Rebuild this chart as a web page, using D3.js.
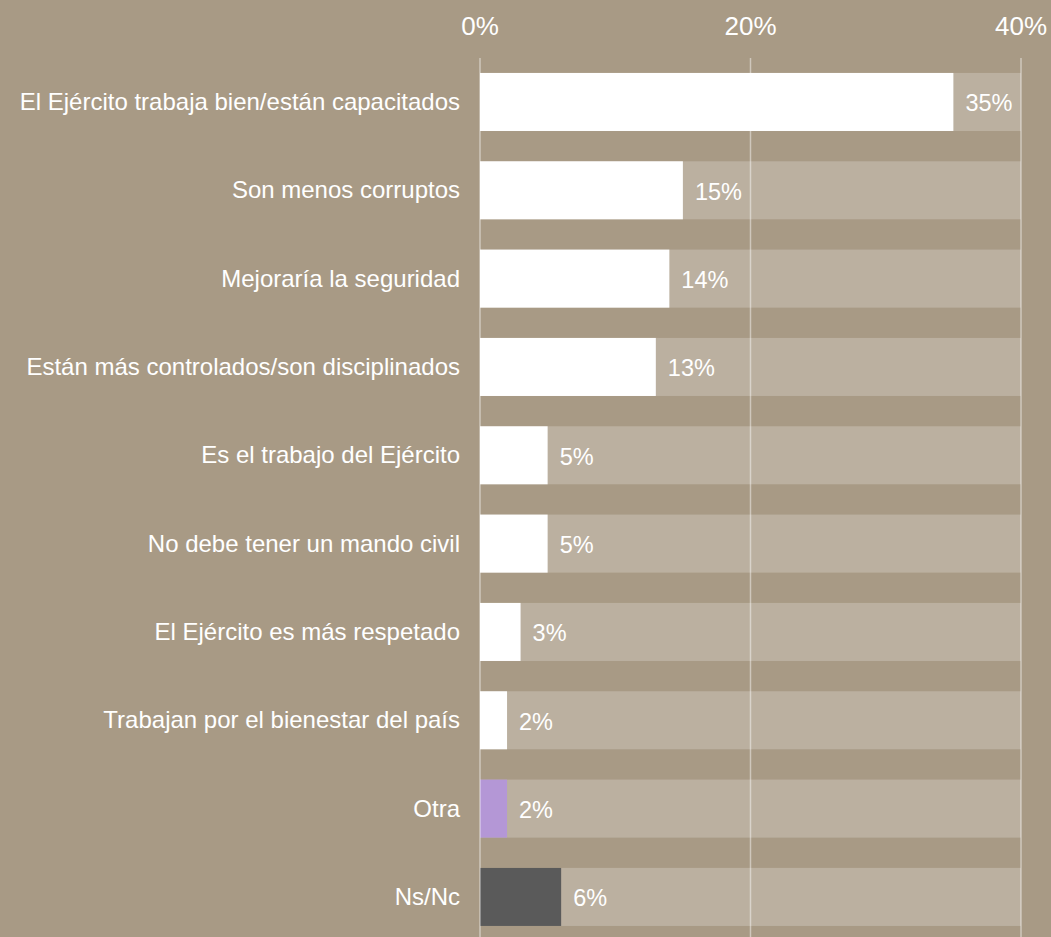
<!DOCTYPE html>
<meta charset="utf-8">
<script src="https://d3js.org/d3.v7.min.js"></script>
<style>
  body { margin: 0; background: #a89a85; }
  svg { display: block; font-family: "Liberation Sans", Arial, sans-serif; }
</style>
<div id="chart"></div>
<script>
// data
var categories = [
  "El Ejército trabaja bien/están capacitados",
  "Son menos corruptos",
  "Mejoraría la seguridad",
  "Están más controlados/son disciplinados",
  "Es el trabajo del Ejército",
  "No debe tener un mando civil",
  "El Ejército es más respetado",
  "Trabajan por el bienestar del país",
  "Otra",
  "Ns/Nc"
];
var values = [35, 15, 14, 13, 5, 5, 3, 2, 2, 6];
var tickValues = [0, 20, 40];

var width = 1051, height = 937;
var bg = "#a89a85", track = "#bbb0a0";
function barColor(c) {
  if (c === "Otra") return "#b497d6";
  if (c === "Ns/Nc") return "#5a5a5a";
  return "#ffffff";
}

var svg = d3.select("#chart").append("svg")
  .attr("width", width)
  .attr("height", height);

svg.append("rect").attr("width", width).attr("height", height).attr("fill", bg);

var x = d3.scaleLinear().domain([0, 40]).range([480, 1021]);
var y = d3.scaleBand().domain(categories).range([57.8, 941.1])
  .paddingInner(0.343).paddingOuter(0.1715);

var rows = svg.append("g").selectAll("g")
  .data(categories)
  .enter().append("g");

// light track behind each bar
rows.append("rect")
  .attr("x", x(0))
  .attr("y", function(d) { return y(d); })
  .attr("width", x(40) - x(0))
  .attr("height", y.bandwidth())
  .attr("fill", track);

rows.append("rect")
  .attr("x", x(0))
  .attr("y", function(d) { return y(d); })
  .attr("width", function(d, i) { return x(values[i]) - x(0); })
  .attr("height", y.bandwidth())
  .attr("fill", function(d) { return barColor(d); });

// grid lines on top
svg.append("g").selectAll("line")
  .data(tickValues)
  .enter().append("line")
  .attr("x1", function(d) { return x(d); })
  .attr("x2", function(d) { return x(d); })
  .attr("y1", 58)
  .attr("y2", height)
  .attr("stroke", "#ffffff")
  .attr("stroke-opacity", 0.45)
  .attr("stroke-width", 1.5);

// top axis labels
svg.append("g").selectAll("text")
  .data(tickValues)
  .enter().append("text")
  .attr("x", function(d) { return x(d); })
  .attr("y", 35)
  .attr("text-anchor", "middle")
  .attr("fill", "#ffffff")
  .style("font-size", "26px")
  .text(function(d) { return d + "%"; });

// category labels
rows.append("text")
  .attr("x", 460)
  .attr("y", function(d) { return y(d) + y.bandwidth() / 2; })
  .attr("dy", "0.33em")
  .attr("text-anchor", "end")
  .attr("fill", "#ffffff")
  .style("font-size", "24px")
  .text(function(d) { return d; });

// value labels
rows.append("text")
  .attr("x", function(d, i) { return x(values[i]) + 12; })
  .attr("y", function(d) { return y(d) + y.bandwidth() / 2; })
  .attr("dy", "0.4em")
  .attr("fill", "#ffffff")
  .style("font-size", "23.5px")
  .text(function(d, i) { return values[i] + "%"; });
</script>
